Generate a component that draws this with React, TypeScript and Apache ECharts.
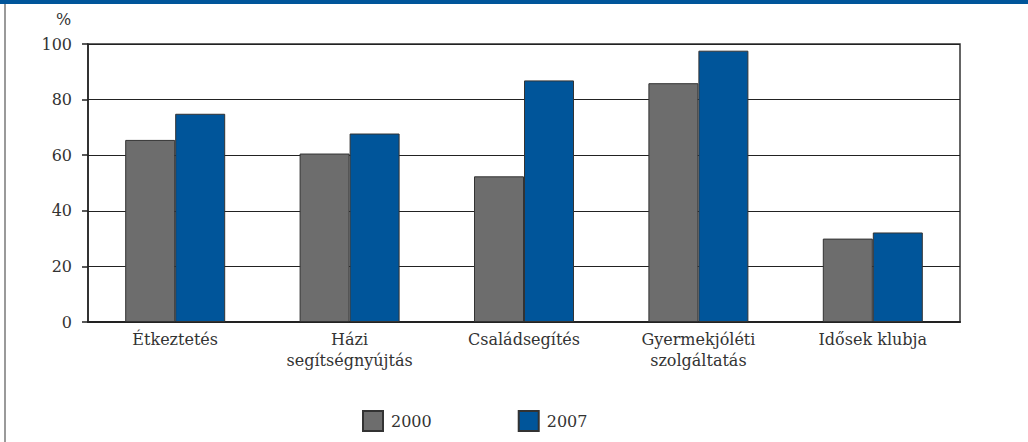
import React, { useEffect, useRef } from "react";
import * as echarts from "echarts";

const categories = [
  "Étkeztetés",
  "Házi\nsegítségnyújtás",
  "Családsegítés",
  "Gyermekjóléti\nszolgáltatás",
  "Idősek klubja",
];
const values2000 = [65.5, 60.6, 52.4, 85.9, 30.0];
const values2007 = [74.9, 67.8, 86.9, 97.6, 32.2];
const seriesNames = ["2000", "2007"];
const yTicks = [0, 20, 40, 60, 80, 100];

const FONT = "DejaVu Serif";
const GRAY = "#6d6d6d";
const BLUE = "#00559a";

export default function App() {
  const ref = useRef<HTMLDivElement>(null);
  useEffect(() => {
    if (!ref.current) return;
    const chart = echarts.init(ref.current, null, { renderer: "svg" });
    chart.setOption({
      animation: false,
      backgroundColor: "#ffffff",
      textStyle: { fontFamily: FONT },
      grid: {
        left: 88,
        right: 68,
        top: 44,
        bottom: 120,
        show: true,
        borderColor: "#333333",
        borderWidth: 1.5,
      },
      legend: {
        left: 362,
        top: 410,
        padding: 0,
        itemWidth: 20,
        itemHeight: 20,
        itemGap: 86,
        icon: "rect",
        data: seriesNames,
        textStyle: { fontFamily: FONT, fontSize: 16, color: "#333333", padding: [0, 0, 0, 3] },
      },
      graphic: [
        { type: "rect", shape: { x: 0, y: 0, width: 1028, height: 4 }, style: { fill: BLUE } },
        { type: "rect", shape: { x: 4, y: 4, width: 2, height: 438 }, style: { fill: "#9a9a9a" } },
        {
          type: "text",
          x: 56,
          y: 11,
          style: { text: "%", fontFamily: FONT, fontSize: 16, fill: "#333333" },
        },
      ],
      xAxis: {
        type: "category",
        data: categories,
        axisLine: { show: true, lineStyle: { color: "#222222", width: 2 } },
        axisTick: { show: false },
        axisLabel: {
          fontFamily: FONT,
          fontSize: 16,
          color: "#333333",
          margin: 7,
          lineHeight: 21,
          interval: 0,
        },
      },
      yAxis: {
        type: "value",
        min: 0,
        max: 100,
        interval: 20,
        axisLine: { show: true, lineStyle: { color: "#222222", width: 1.5 } },
        axisTick: { show: true, inside: false, length: 6, lineStyle: { color: "#222222", width: 1.5 } },
        axisLabel: {
          fontFamily: FONT,
          fontSize: 16,
          color: "#333333",
          margin: 16,
          formatter: (v: number) => (yTicks.includes(v) ? String(v) : ""),
        },
        splitLine: { show: true, lineStyle: { color: "#222222", width: 1.2 } },
      },
      series: [
        {
          name: seriesNames[0],
          type: "bar",
          data: values2000,
          barWidth: 50,
          barGap: "0%",
          itemStyle: { color: GRAY, borderColor: "#333333", borderWidth: 1 },
        },
        {
          name: seriesNames[1],
          type: "bar",
          data: values2007,
          barWidth: 50,
          barGap: "0%",
          itemStyle: { color: BLUE, borderColor: "#333333", borderWidth: 1 },
        },
      ],
    });
    return () => chart.dispose();
  }, []);
  return (
    <div
      ref={ref}
      style={{ position: "fixed", left: 0, top: 0, width: 1028, height: 442, background: "#fff" }}
    />
  );
}
